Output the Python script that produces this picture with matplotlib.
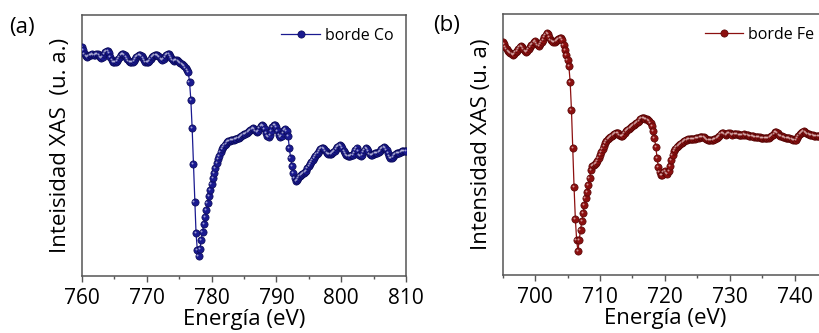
import numpy as np
import matplotlib
matplotlib.use("Agg")
import matplotlib.pyplot as plt
from matplotlib.ticker import MultipleLocator
from matplotlib.transforms import offset_copy

plt.rcParams['font.family'] = ['Open Sans', 'DejaVu Sans']

# Co L-edge XAS, 760-810 eV sampled every 0.2 eV (a.u.)
co_energy = np.linspace(760.0, 810.0, 251)
co_intensity = [
    229, 226, 222, 220, 219, 220, 221, 221, 222, 221,
    221, 222, 222, 221, 219, 218, 219, 222, 224, 225,
    225, 223, 219, 216, 214, 214, 214, 215, 217, 219,
    221, 222, 222, 221, 219, 217, 215, 214, 214, 214,
    215, 217, 219, 220, 221, 221, 220, 218, 216, 214,
    214, 214, 215, 217, 219, 220, 221, 221, 221, 220,
    219, 217, 216, 217, 219, 221, 222, 222, 220, 218,
    216, 215, 216, 216, 215, 214, 213, 212, 211, 210,
    208, 206, 204, 194, 176, 148, 112, 74, 43, 26,
    20, 27, 36, 44, 52, 59, 66, 73, 80, 86,
    92, 98, 103, 108, 113, 117, 120, 124, 127, 129,
    131, 132, 134, 135, 135, 136, 136, 136, 137, 137,
    138, 138, 139, 140, 141, 142, 142, 143, 144, 145,
    146, 147, 148, 147, 145, 144, 145, 148, 150, 151,
    150, 147, 143, 140, 139, 141, 145, 149, 151, 151,
    149, 145, 141, 139, 140, 143, 146, 147, 145, 140,
    128, 118, 110, 103, 98, 95, 96, 98, 100, 101,
    102, 103, 104, 105, 108, 110, 112, 114, 116, 118,
    120, 122, 123, 125, 127, 128, 128, 127, 125, 123,
    122, 122, 122, 123, 124, 125, 127, 129, 130, 131,
    130, 128, 125, 123, 121, 120, 120, 120, 121, 121,
    123, 126, 128, 125, 121, 120, 121, 124, 126, 128,
    127, 125, 122, 121, 121, 122, 123, 123, 123, 124,
    125, 127, 128, 129, 128, 126, 123, 120, 118, 118,
    119, 121, 122, 123, 123, 123, 124, 125, 125, 125,
    125,
]

# Fe L-edge XAS, 695-745 eV sampled every 0.2 eV (a.u.)
fe_energy = np.linspace(695.0, 745.0, 251)
fe_intensity = [
    233, 231, 228, 226, 224, 223, 222, 221, 220, 221,
    223, 224, 226, 228, 229, 228, 226, 224, 223, 224,
    226, 228, 230, 231, 233, 234, 232, 230, 229, 231,
    233, 235, 238, 240, 242, 241, 238, 235, 234, 233,
    233, 234, 235, 236, 237, 237, 235, 230, 225, 220,
    215, 209, 193, 165, 127, 88, 56, 35, 24, 35,
    45, 54, 62, 70, 77, 83, 90, 97, 105, 109,
    110, 111, 112, 114, 117, 120, 123, 126, 129, 132,
    134, 136, 137, 138, 139, 140, 141, 142, 142, 142,
    140, 139, 139, 140, 142, 144, 145, 146, 147, 148,
    149, 150, 151, 152, 153, 154, 156, 157, 157, 157,
    156, 156, 155, 154, 152, 149, 144, 137, 128, 117,
    108, 103, 100, 100, 103, 104, 102, 101, 104, 109,
    115, 120, 124, 126, 128, 129, 130, 131, 132, 133,
    134, 135, 135, 136, 136, 136, 136, 136, 136, 137,
    137, 137, 138, 138, 138, 138, 137, 136, 135, 135,
    135, 135, 135, 136, 136, 137, 138, 139, 141, 142,
    142, 141, 140, 141, 142, 142, 141, 140, 141, 141,
    141, 141, 140, 140, 140, 140, 141, 140, 140, 140,
    139, 139, 139, 139, 138, 138, 138, 138, 138, 137,
    137, 137, 137, 137, 137, 137, 138, 139, 140, 141,
    143, 143, 142, 140, 139, 139, 138, 138, 137, 137,
    137, 137, 136, 136, 135, 135, 135, 137, 139, 141,
    142, 143, 144, 143, 142, 141, 141, 140, 140, 140,
    139, 139, 139, 139, 139, 139, 139, 139, 139, 139,
    139,
]

co_ticks = [760, 770, 780, 790, 800, 810]
fe_ticks = [700, 710, 720, 730, 740]

SPINE = '#555555'
TICK_FS = 15
LABEL_FS = 16

fig = plt.figure(figsize=(8.19, 3.33), dpi=100)
ax_a = fig.add_axes([0.1001, 0.1712, 0.3956, 0.7838])
ax_b = fig.add_axes([0.6138, 0.1742, 0.3960, 0.7838])


def draw_spectrum(ax, x, y, color, edge, glint_color, label):
    ax.plot(x, y, '-', color=color, lw=0.9, marker='o', ms=5.2,
            mfc=color, mec=edge, mew=0.5, label=label, zorder=3)
    # small specular glint on each bead
    glint = offset_copy(ax.transData, fig=ax.figure, x=-0.9, y=0.9, units='points')
    ax.plot(x, y, ls='none', marker='o', ms=1.4, mfc=glint_color,
            mec='none', alpha=0.7, transform=glint, zorder=4)


def style_axes(ax, xlim, ticks, ylabel):
    ax.set_xlim(*xlim)
    ax.set_ylim(0, 261)
    ax.set_xticks(ticks)
    ax.xaxis.set_minor_locator(MultipleLocator(5))
    ax.set_yticks([])
    ax.tick_params(axis='x', which='major', direction='out', length=4.5, width=1.0,
                   color=SPINE, labelsize=TICK_FS, pad=4, top=False)
    ax.tick_params(axis='x', which='minor', direction='out', length=2.5, width=1.0,
                   color=SPINE, top=False)
    for s in ax.spines.values():
        s.set_color(SPINE)
        s.set_linewidth(1.1)
    ax.set_xlabel('Energía (eV)', fontsize=LABEL_FS, labelpad=0)
    ax.set_ylabel(ylabel, fontsize=LABEL_FS, labelpad=8)
    ax.legend(loc='upper right', frameon=False, fontsize=11.5, handlelength=2.4,
              handletextpad=0.3, borderaxespad=0.5, borderpad=0.3)


draw_spectrum(ax_a, co_energy, co_intensity, '#1a1a90', '#0a0a55', '#d8d8f0', 'borde Co')
style_axes(ax_a, (760, 810), co_ticks, 'Inteisidad XAS  (u. a.)')

draw_spectrum(ax_b, fe_energy, fe_intensity, '#8c1010', '#550505', '#f0d0d0', 'borde Fe')
style_axes(ax_b, (695, 745), fe_ticks, 'Intensidad XAS (u. a)')

fig.text(22 / 819, 1 - 27 / 333, '(a)', fontsize=LABEL_FS, ha='center', va='center')
fig.text(447 / 819, 1 - 25 / 333, '(b)', fontsize=LABEL_FS, ha='center', va='center')

fig.savefig('out.png', dpi=100)
